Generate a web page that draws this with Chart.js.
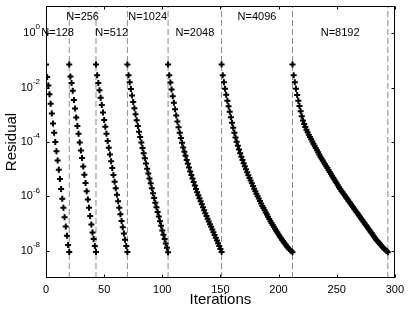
<!DOCTYPE html>
<html>
<head>
<meta charset="utf-8">
<script src="https://cdn.jsdelivr.net/npm/chart.js@4"></script>
<style>
  html, body { margin: 0; padding: 0; background: #fff; }
  #wrap { width: 409px; height: 312px; position: relative; }
</style>
</head>
<body>
<div id="wrap"><canvas id="chart"></canvas></div>
<script>
const gridSizes = [128, 256, 512, 1024, 2048, 4096, 8192];

// log10 of the residual, one entry per iteration (restart at every grid size)
const res128 = [-1.15,-1.61,-1.92,-2.24,-2.59,-2.95,-3.32,-3.66,-4.00,-4.34,-4.68,-5.02,-5.36,-5.73,-6.09,-6.42,-6.77,-7.11,-7.45,-7.79,-8.04];
const res256 = [-1.15,-1.59,-1.83,-2.12,-2.46,-2.77,-3.10,-3.41,-3.70,-4.02,-4.31,-4.59,-4.90,-5.20,-5.51,-5.81,-6.11,-6.42,-6.72,-7.03,-7.33,-7.57,-7.82,-8.04];
const res512 = [-1.15,-1.55,-1.83,-2.10,-2.37,-2.64,-2.92,-3.19,-3.44,-3.70,-3.96,-4.21,-4.46,-4.71,-4.96,-5.21,-5.46,-5.70,-5.94,-6.18,-6.42,-6.66,-6.90,-7.13,-7.36,-7.59,-7.82,-8.04];
const res1024 = [-1.15,-1.55,-1.80,-2.05,-2.29,-2.53,-2.76,-2.98,-3.20,-3.41,-3.62,-3.82,-4.02,-4.22,-4.41,-4.60,-4.79,-4.98,-5.16,-5.34,-5.52,-5.70,-5.88,-6.06,-6.23,-6.40,-6.57,-6.74,-6.91,-7.08,-7.25,-7.41,-7.57,-7.73,-7.89,-8.05];
const res2048 = [-1.15,-1.55,-1.81,-2.07,-2.32,-2.56,-2.80,-3.03,-3.25,-3.46,-3.66,-3.85,-4.03,-4.20,-4.36,-4.51,-4.66,-4.80,-4.94,-5.08,-5.21,-5.34,-5.47,-5.60,-5.73,-5.85,-5.96,-6.07,-6.18,-6.29,-6.40,-6.51,-6.62,-6.72,-6.82,-6.92,-7.02,-7.12,-7.22,-7.32,-7.42,-7.52,-7.62,-7.72,-7.82,-7.93,-8.04];
const res4096 = [-1.15,-1.55,-1.80,-2.04,-2.26,-2.48,-2.69,-2.89,-3.09,-3.29,-3.48,-3.66,-3.83,-3.99,-4.14,-4.28,-4.41,-4.54,-4.66,-4.78,-4.89,-5.00,-5.11,-5.22,-5.32,-5.42,-5.52,-5.62,-5.72,-5.81,-5.90,-5.99,-6.08,-6.17,-6.26,-6.35,-6.43,-6.51,-6.59,-6.67,-6.75,-6.83,-6.91,-6.98,-7.05,-7.12,-7.19,-7.26,-7.33,-7.40,-7.47,-7.53,-7.59,-7.65,-7.71,-7.77,-7.83,-7.88,-7.93,-7.97,-8.01,-8.05];
const res8192 = [-1.15,-1.55,-1.80,-2.04,-2.27,-2.48,-2.68,-2.87,-3.05,-3.21,-3.34,-3.45,-3.55,-3.64,-3.73,-3.82,-3.90,-3.98,-4.06,-4.14,-4.22,-4.30,-4.38,-4.46,-4.54,-4.61,-4.68,-4.75,-4.82,-4.89,-4.96,-5.03,-5.10,-5.17,-5.24,-5.31,-5.38,-5.45,-5.52,-5.59,-5.66,-5.73,-5.79,-5.85,-5.91,-5.97,-6.03,-6.09,-6.15,-6.21,-6.27,-6.33,-6.39,-6.45,-6.51,-6.57,-6.63,-6.69,-6.75,-6.81,-6.87,-6.93,-6.99,-7.05,-7.11,-7.17,-7.23,-7.29,-7.35,-7.41,-7.47,-7.53,-7.59,-7.64,-7.69,-7.74,-7.79,-7.84,-7.89,-7.93,-7.97,-8.01,-8.05];

const xTicks = [0, 50, 100, 150, 200, 250, 300];
const yTickExps = [0, -2, -4, -6, -8];

const FONT = '"Liberation Sans", Arial, Helvetica, sans-serif';
Chart.defaults.font.family = FONT;
Chart.defaults.color = '#000';

const allRes = [res128, res256, res512, res1024, res2048, res4096, res8192];

// each solve restarts where the previous one stopped
const spans = [];
let it = 0;
allRes.forEach(r => {
    spans.push({ start: it, end: it + r.length - 1 });
    it += r.length - 1;
});

const datasets = [];
allRes.forEach((r, i) => {
    datasets.push({
        data: r.map((v, k) => ({ x: spans[i].start + k, y: Math.pow(10, v) })),
        showLine: true,
        borderColor: '#c4c4c4',
        borderWidth: 1,
        borderDash: [1, 2],
        pointStyle: 'cross',
        pointRadius: 3,
        pointBorderWidth: 2,
        pointBorderColor: '#000',
        order: 1
    });
});
spans.forEach(s => {
    datasets.push({
        data: [{ x: s.end, y: 1e-9 }, { x: s.end, y: 10 }],
        showLine: true,
        borderColor: '#8a8a8a',
        borderWidth: 1,
        borderDash: [6, 3],
        pointRadius: 0,
        order: 2
    });
});

const frameAndLabels = {
    id: 'frameAndLabels',
    afterDatasetsDraw(chart) {
        const { ctx, chartArea: a, scales: { x, y } } = chart;
        ctx.save();
        ctx.strokeStyle = '#000';
        ctx.lineWidth = 1;
        const L = Math.round(a.left) + 0.5, R = Math.round(a.right) - 0.5;
        const T = Math.round(a.top) + 0.5, B = Math.round(a.bottom) - 0.5;
        ctx.strokeRect(L, T, R - L, B - T);

        const tl = 3;
        ctx.beginPath();
        xTicks.forEach(v => {
            const px = Math.round(x.getPixelForValue(v)) + 0.5;
            ctx.moveTo(px, B); ctx.lineTo(px, B - tl);
            ctx.moveTo(px, T); ctx.lineTo(px, T + tl);
        });
        yTickExps.forEach(e => {
            const py = Math.round(y.getPixelForValue(Math.pow(10, e))) + 0.5;
            ctx.moveTo(L, py); ctx.lineTo(L + tl, py);
            ctx.moveTo(R, py); ctx.lineTo(R - tl, py);
        });
        ctx.stroke();

        // 10^e tick labels
        ctx.fillStyle = '#000';
        ctx.textAlign = 'right';
        ctx.textBaseline = 'middle';
        yTickExps.forEach(e => {
            const py = y.getPixelForValue(Math.pow(10, e));
            const ex = String(e);
            ctx.font = `8px ${FONT}`;
            const ew = ctx.measureText(ex).width;
            const xr = a.left - 6;
            ctx.fillText(ex, xr, py - 6);
            ctx.font = `11px ${FONT}`;
            ctx.fillText('10', xr - ew, py);
        });

        // grid size labels, alternating rows
        ctx.font = `11px ${FONT}`;
        ctx.textAlign = 'center';
        spans.forEach((s, i) => {
            const cx = x.getPixelForValue((s.start + s.end) / 2);
            const cy = y.getPixelForValue(i % 2 ? Math.pow(10, 0.6) : 1);
            ctx.fillText('N=' + gridSizes[i], cx, cy);
        });
        ctx.restore();
    }
};

new Chart(document.getElementById('chart'), {
    type: 'scatter',
    data: { datasets },
    options: {
        responsive: true,
        maintainAspectRatio: false,
        animation: false,
        layout: { padding: { top: 3, right: 13, left: 0, bottom: 0 } },
        plugins: { legend: { display: false }, tooltip: { enabled: false } },
        scales: {
            x: {
                type: 'linear', min: 0, max: 300,
                grid: { display: false, drawTicks: false },
                border: { display: false },
                ticks: { stepSize: 50, padding: 5, maxRotation: 0, font: { size: 11 }, color: '#000' },
                title: { display: true, text: 'Iterations', font: { size: 15 }, color: '#000', padding: { top: 0, bottom: 3 } },
                afterFit: s => { s.height = 34; }
            },
            y: {
                type: 'logarithmic', min: 1e-9, max: 10,
                grid: { display: false, drawTicks: false },
                border: { display: false },
                ticks: { display: false },
                title: { display: true, text: 'Residual', font: { size: 15 }, color: '#000', padding: { top: 3, bottom: 0 } },
                afterFit: s => { s.width = 46; }
            }
        }
    },
    plugins: [frameAndLabels]
});
</script>
</body>
</html>
